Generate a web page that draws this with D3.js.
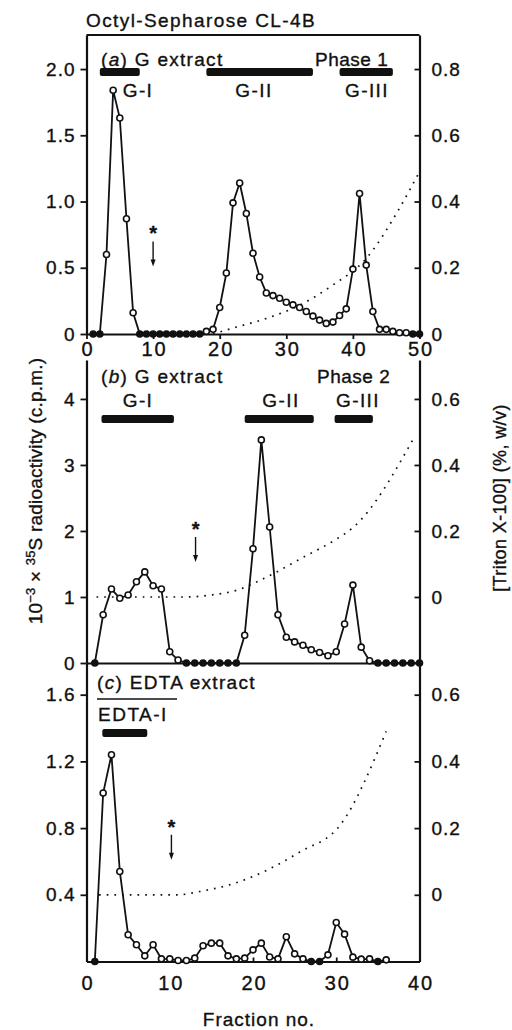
<!DOCTYPE html>
<html>
<head>
<meta charset="utf-8">
<script src="https://cdn.jsdelivr.net/npm/d3@7/dist/d3.min.js"></script>
<style>
  body { margin: 0; background: #fff; }
  svg text { font-family: "Liberation Sans", Arial, sans-serif; fill: #111; stroke: #111; stroke-width: 0.35px; }
</style>
</head>
<body>
<svg id="chart" width="512" height="1030"></svg>
<script>
// 35S radioactivity per fraction (x 10^-3 c.p.m.), fractions start at 1
const radioA = [0, 0, 0.6, 1.84, 1.63, 0.87, 0.16, 0, 0, 0, 0, 0, 0, 0, 0, 0, 0,
  0.02, 0.035, 0.2, 0.46, 0.99, 1.14, 0.91, 0.61, 0.43, 0.31, 0.29, 0.27, 0.24, 0.22,
  0.2, 0.17, 0.135, 0.105, 0.08, 0.09, 0.14, 0.19, 0.49, 1.06, 0.52, 0.17, 0.035,
  0.035, 0.02, 0.01, 0.01, 0, 0];
const radioB = [0, 0.73, 1.12, 0.98, 1.03, 1.23, 1.38, 1.17, 1.12, 0.17, 0.045,
  0, 0, 0, 0, 0, 0, 0, 0.42, 1.73, 3.38, 2.06, 0.73, 0.39, 0.32, 0.27, 0.2, 0.16,
  0.11, 0.17, 0.59, 1.18, 0.24, 0.035, 0, 0, 0, 0, 0, 0];
const radioC = [0, 1.01, 1.24, 0.54, 0.16, 0.1, 0.034, 0.1, 0.016, 0.016, 0.006,
  0.006, 0.02, 0.094, 0.11, 0.11, 0.034, 0.016, 0.02, 0.07, 0.11, 0.027, 0.016,
  0.148, 0.046, 0.016, 0, 0, 0.04, 0.234, 0.164, 0.026, 0.014, 0.016, 0, 0.01];

// Triton X-100 gradient (%, w/v)
const gradAFrac = [19, 22, 27, 32, 37, 42, 47, 50];
const gradAVal = [0, 0.018, 0.047, 0.087, 0.148, 0.228, 0.38, 0.49];
const gradBFrac = [1.2, 12, 15, 18, 22, 26, 30, 32, 39.5];
const gradBVal = [0, 0, 0.006, 0.02, 0.065, 0.12, 0.175, 0.21, 0.49];
const gradCFrac = [1.5, 11, 13.6, 17.6, 21.6, 25.6, 30.5, 36];
const gradCVal = [0, 0, 0.01, 0.033, 0.073, 0.128, 0.21, 0.49];

// pooled fractions
const poolsA = [["G-I", 2, 8], ["G-II", 18, 34], ["G-III", 38, 46]];
const poolsB = [["G-I", 1.8, 10.5], ["G-II", 19, 27.3], ["G-III", 29.8, 34.4]];
const poolsC = [["EDTA-I", 1.9, 7.3]];

const xTicksA = [0, 10, 20, 30, 40, 50];
const xTicksC = [0, 10, 20, 30, 40];

const svg = d3.select("#chart");
svg.append("rect").attr("width", 512).attr("height", 1030).attr("fill", "#fff");

const FS = 19;
const X0 = 86.5, X1 = 419.5;

const panels = [
  {
    values: radioA, gradFrac: gradAFrac, gradVal: gradAVal, pools: poolsA,
    xMax: 50, top: 35, base: 334, leftMax: 2.257,
    rightDomain: [0, 2.257 * 0.4],
    leftTicks: [0, 0.5, 1, 1.5, 2], rightTicks: [0, 0.2, 0.4, 0.6, 0.8],
    star: [10, 0.51], barY: 72, poolLabelY: 97, poolLabelX: [138, 254, 367]
  },
  {
    values: radioB, gradFrac: gradBFrac, gradVal: gradBVal, pools: poolsB,
    xMax: 40, top: 360, base: 663, leftMax: 4.59,
    rightDomain: [-0.2, 0.718],
    leftTicks: [0, 1, 2, 3, 4], rightTicks: [0, 0.2, 0.4, 0.6],
    star: [13.1, 1.53], barY: 419, poolLabelY: 407, poolLabelX: [138, 281, 358]
  },
  {
    values: radioC, gradFrac: gradCFrac, gradVal: gradCVal, pools: poolsC,
    xMax: 40, top: 663, base: 961.5, leftMax: 1.79,
    rightDomain: [-0.2, 0.695],
    leftTicks: [0.4, 0.8, 1.2, 1.6], rightTicks: [0, 0.2, 0.4, 0.6],
    star: [10.2, 0.61], barY: 733, poolLabelY: null, poolLabelX: []
  }
];

const fmt1 = v => v === 0 ? "0" : d3.format(".1f")(v);

/**
 * style the generated axis pieces
 */
function styleAxis(a, size, spacing) {
  a.selectAll("path.domain").attr("stroke", "#111").attr("stroke-width", 2.2);
  a.selectAll(".tick line").attr("stroke", "#111").attr("stroke-width", 1.8);
  a.selectAll("text").attr("font-size", size).attr("fill", "#111")
    .style("font-family", '"Liberation Sans", Arial, sans-serif')
    .style("letter-spacing", spacing + "px");
}

panels.forEach((p, pi) => {
  const g = svg.append("g");
  const x = d3.scaleLinear().domain([0, p.xMax]).range([X0, X1]);
  const y = d3.scaleLinear().domain([0, p.leftMax]).range([p.base, p.top]);
  const yr = d3.scaleLinear().domain(p.rightDomain).range([p.base, p.top]);

  // left axis, ticks outwards
  const left = g.append("g").attr("transform", `translate(${X0},0)`)
    .call(d3.axisLeft(y).tickValues(p.leftTicks).tickSizeOuter(0).tickSizeInner(6).tickPadding(5)
      .tickFormat(pi === 1 ? d3.format("d") : fmt1));
  // right axis, ticks inwards
  const right = g.append("g").attr("transform", `translate(${X1},0)`)
    .call(d3.axisRight(yr).tickValues(p.rightTicks).tickSizeOuter(0).tickSizeInner(-5).tickPadding(12)
      .tickFormat(fmt1));
  const bottom = g.append("g").attr("transform", `translate(0,${p.base})`);
  if (pi === 0) {
    bottom.call(d3.axisBottom(x).tickValues(xTicksA).tickSizeOuter(0).tickSizeInner(5).tickPadding(3));
  } else if (pi === 2) {
    bottom.call(d3.axisBottom(x).tickValues(xTicksC).tickSizeOuter(0).tickSizeInner(-4).tickPadding(14));
  } else {
    bottom.call(d3.axisBottom(x).tickValues([]).tickSizeOuter(0));
  }
  styleAxis(left, FS, 1);
  styleAxis(right, FS, 1);
  styleAxis(bottom, 20, 2);
  bottom.selectAll("text").attr("dx", 1);
  if (pi === 0) {
    g.append("line").attr("x1", X0).attr("x2", X1).attr("y1", p.top).attr("y2", p.top)
      .attr("stroke", "#111").attr("stroke-width", 2.2);
  }

  // Triton gradient (dotted)
  const gradPts = p.gradFrac.map((f, i) => [f, p.gradVal[i]]);
  g.append("path").datum(gradPts)
    .attr("fill", "none").attr("stroke", "#111").attr("stroke-width", 1.7)
    .attr("stroke-dasharray", "1.7,6")
    .attr("d", d3.line().x(d => x(d[0])).y(d => yr(d[1])).curve(d3.curveMonotoneX));

  // radioactivity profile
  const pts = p.values.map((v, i) => [i + 1, v]);
  g.append("path").datum(pts)
    .attr("fill", "none").attr("stroke", "#111").attr("stroke-width", 1.8)
    .attr("d", d3.line().x(d => x(d[0])).y(d => y(d[1])));
  g.selectAll("circle.pt").data(pts).enter().append("circle")
    .attr("class", "pt")
    .attr("cx", d => x(d[0])).attr("cy", d => y(d[1]))
    .attr("r", 3)
    .attr("fill", d => d[1] === 0 ? "#111" : "#fff")
    .attr("stroke", "#111").attr("stroke-width", 1.6);

  // pooled fraction bars
  g.selectAll("rect.pool").data(p.pools).enter().append("rect")
    .attr("class", "pool")
    .attr("x", d => x(d[1])).attr("width", d => x(d[2]) - x(d[1]))
    .attr("y", p.barY - 4).attr("height", 8).attr("rx", 2)
    .attr("fill", "#111");
  if (p.poolLabelY !== null) {
    g.selectAll("text.pool").data(p.pools).enter().append("text")
      .attr("class", "pool")
      .attr("x", (d, i) => p.poolLabelX[i]).attr("y", p.poolLabelY)
      .attr("text-anchor", "middle").attr("font-size", FS)
      .style("letter-spacing", "1.4px")
      .text(d => d[0]);
  }

  // sample application marker
  const sx = x(p.star[0]), tip = y(p.star[1]);
  g.append("text").attr("x", sx).attr("y", tip - 26).attr("text-anchor", "middle")
    .attr("font-size", 20).attr("font-weight", "bold").text("*");
  g.append("line").attr("x1", sx).attr("x2", sx).attr("y1", tip - 25).attr("y2", tip - 5)
    .attr("stroke", "#111").attr("stroke-width", 1.4);
  g.append("path").attr("d", `M${sx - 2.5},${tip - 7}L${sx + 2.5},${tip - 7}L${sx},${tip}Z`)
    .attr("fill", "#111");
});

// panel captions
function caption(xp, yp, letter, rest) {
  const t = svg.append("text").attr("x", xp).attr("y", yp).attr("font-size", FS)
    .style("letter-spacing", "1.3px");
  t.append("tspan").text("(");
  t.append("tspan").attr("font-style", "italic").text(letter);
  t.append("tspan").text(") " + rest);
}
function label(xp, yp, txt, spacing) {
  return svg.append("text").attr("x", xp).attr("y", yp).attr("font-size", FS)
    .style("letter-spacing", spacing + "px").text(txt);
}
label(86, 27, "Octyl-Sepharose CL-4B", 1.4);
caption(101, 66, "a", "G extract");
label(315, 66, "Phase 1", 0.5);
caption(101, 383, "b", "G extract");
label(317, 383, "Phase 2", 0.5);
caption(97, 689, "c", "EDTA extract");
svg.append("line").attr("x1", 97).attr("x2", 177).attr("y1", 699).attr("y2", 699)
  .attr("stroke", "#111").attr("stroke-width", 1.4);
label(98, 721, "EDTA-I", 1.5);

// axis titles
label(259, 1026, "Fraction no.", 1).attr("text-anchor", "middle");

const yl = svg.append("text").attr("transform", "translate(42,491) rotate(-90)")
  .attr("text-anchor", "middle").attr("font-size", FS).style("letter-spacing", "0.2px");
yl.append("tspan").text("10");
yl.append("tspan").attr("dy", -7).attr("font-size", 13).text("\u22123");
yl.append("tspan").attr("dy", 7).text(" \u00d7 ");
yl.append("tspan").attr("dy", -7).attr("font-size", 13).text("35");
yl.append("tspan").attr("dy", 7).text("S radioactivity (c.p.m.)");

svg.append("text").attr("transform", "translate(506,498) rotate(-90)")
  .attr("text-anchor", "middle").attr("font-size", 18).style("letter-spacing", "0.4px")
  .text("[Triton X-100] (%, w/v)");
</script>
</body>
</html>
